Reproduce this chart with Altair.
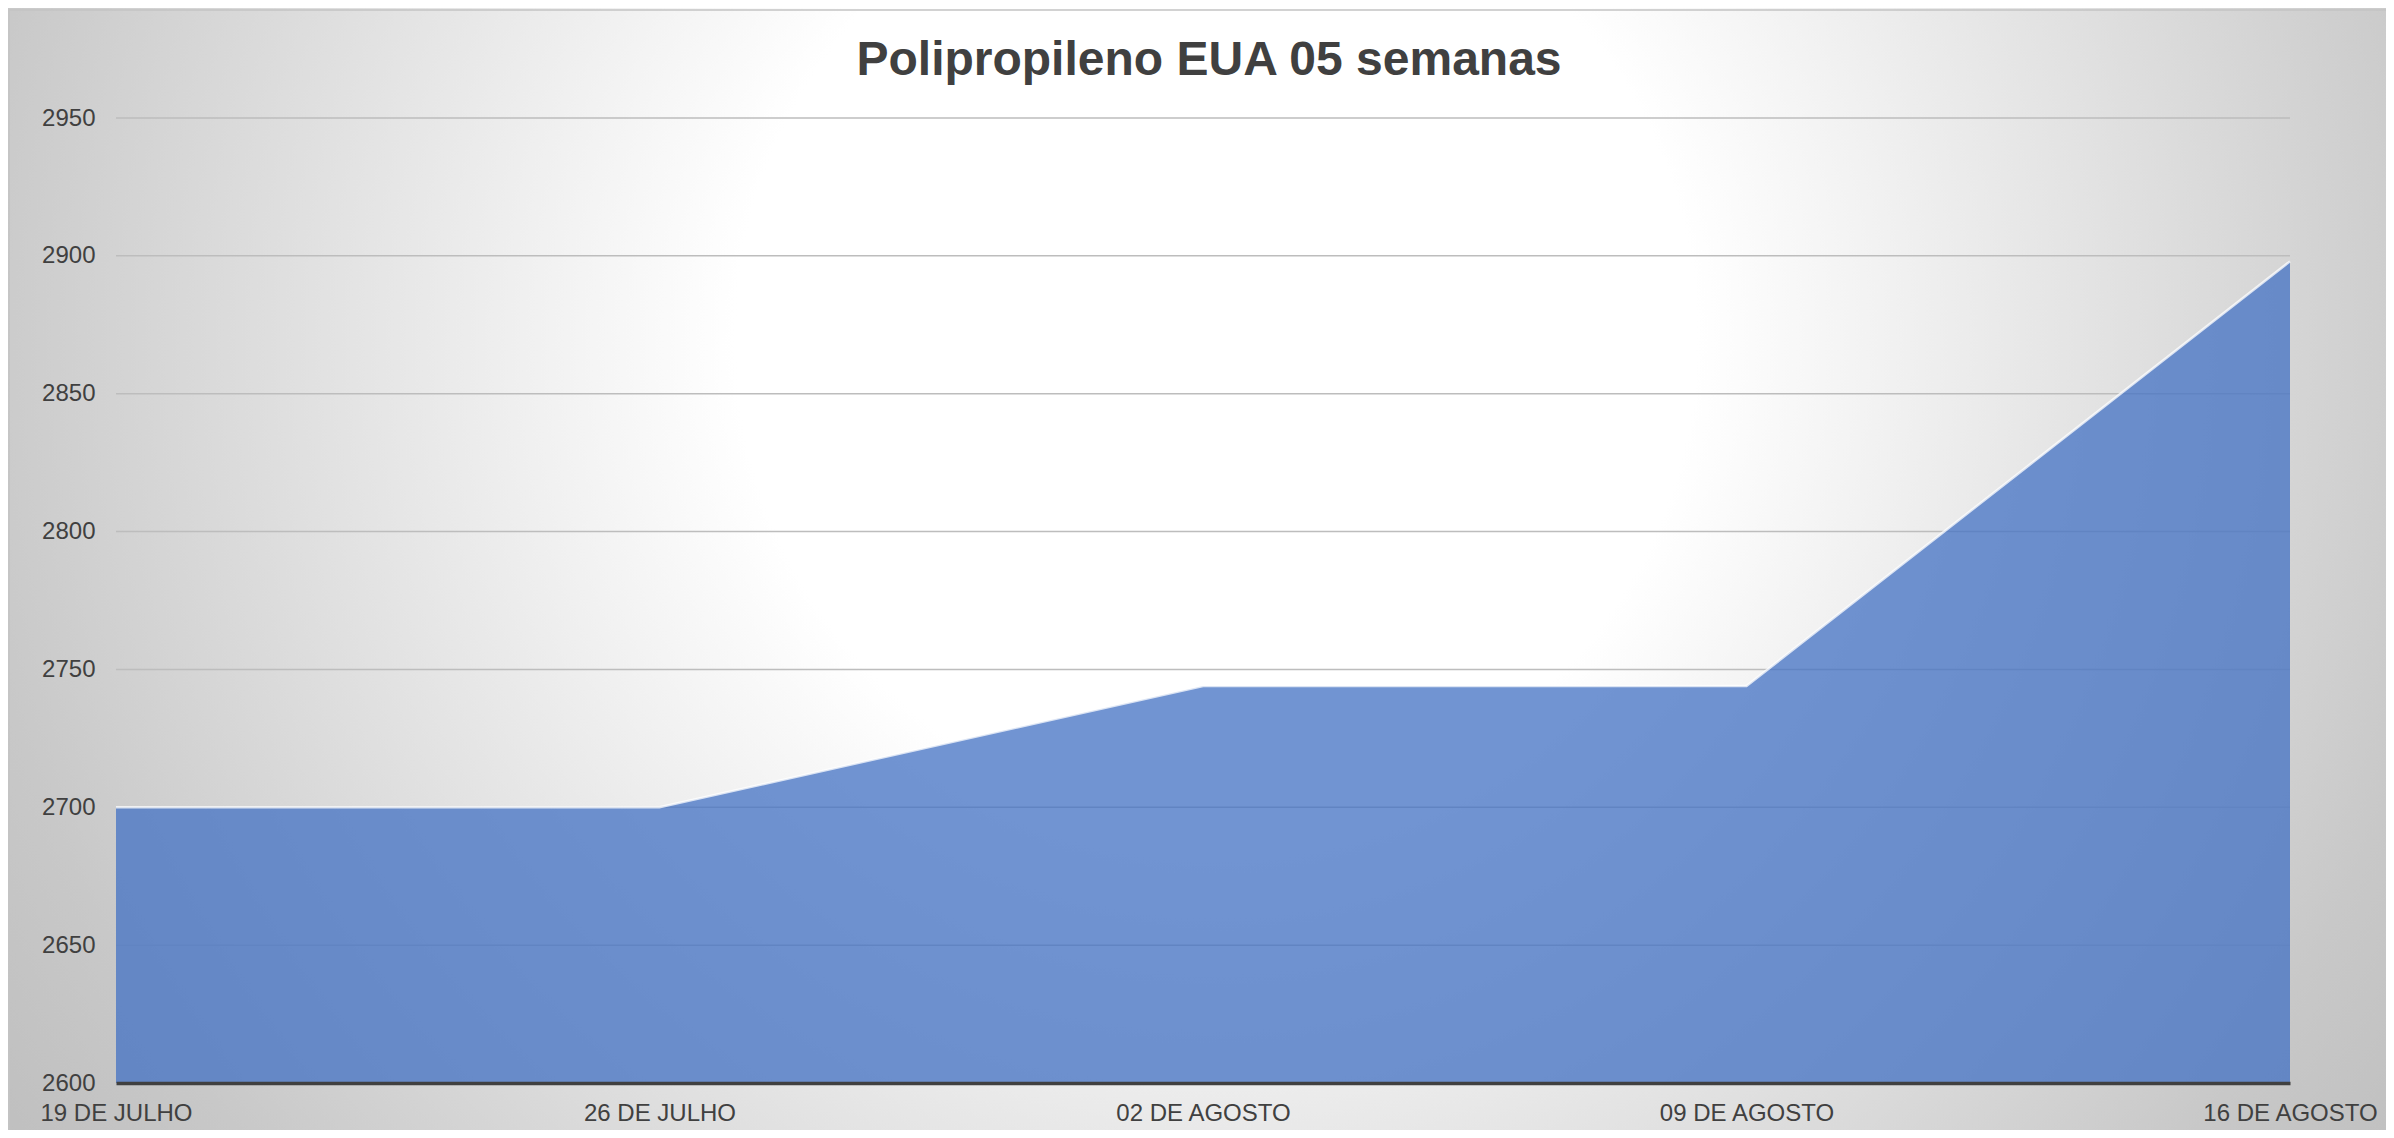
import altair as alt
import pandas as pd

dates = ["19 DE JULHO", "26 DE JULHO", "02 DE AGOSTO", "09 DE AGOSTO", "16 DE AGOSTO"]
values = [2700, 2700, 2744, 2744, 2898]
y_ticks = [2600, 2650, 2700, 2750, 2800, 2850, 2900, 2950]
title_text = "Polipropileno EUA 05 semanas"

df = pd.DataFrame({"data": dates, "valor": values})
griddf = pd.DataFrame({"valor": y_ticks[1:]})
bgdf = pd.DataFrame({"a": [0]})

W, H = 2174, 965
PAD = {"left": 108, "top": 110, "right": 96, "bottom": 47}
FONT = "Liberation Sans"

radial = {
    "gradient": "radial",
    "x1": 0.5, "y1": 0.5, "r1": 0,
    "x2": 0.5, "y2": 0.5, "r2": 0.5,
    "stops": [
        {"offset": 0.0, "color": "#ffffff"},
        {"offset": 0.32, "color": "#ffffff"},
        {"offset": 0.84, "color": "#c8c8c8"},
        {"offset": 1.0, "color": "#bdbdbd"},
    ],
}

cx, cy, R = 1100, 220, 1500
bg = alt.Chart(bgdf).mark_rect(fill=radial, clip=False).encode(
    x=alt.value(cx - R), x2=alt.value(cx + R),
    y=alt.value(cy - R), y2=alt.value(cy + R),
)
border = alt.Chart(bgdf).mark_rect(fill=None, stroke="#c4c4c4", strokeWidth=1.5, clip=False).encode(
    x=alt.value(-PAD["left"] + 1), x2=alt.value(W + PAD["right"] + 10),
    y=alt.value(-PAD["top"] + 2), y2=alt.value(H + PAD["bottom"] + 10),
)

xenc = alt.X(
    "data:N", sort=dates, scale=alt.Scale(type="point", padding=0),
    axis=alt.Axis(
        title=None, labelAngle=0, labelFontSize=24, labelFont=FONT, labelColor="#404040",
        labelPadding=18, ticks=False, domainColor="#404040", domainWidth=3.5,
        grid=False, zindex=2, labelOverlap=False,
    ),
)
yscale = alt.Scale(domain=[2600, 2950], zero=False, nice=False)
yaxis = alt.Axis(
    title=None, values=y_ticks, format="d", labelFontSize=24, labelFont=FONT, labelColor="#404040",
    labelPadding=21, ticks=False, domain=False, grid=False, zindex=2,
)

grid = alt.Chart(griddf).mark_rule(color="#bdbdbd", strokeWidth=1.5).encode(
    y=alt.Y("valor:Q", scale=yscale, axis=yaxis),
)

area = alt.Chart(df).mark_area(color="#4472C4", opacity=0.76, clip=True).encode(
    x=xenc,
    y=alt.Y("valor:Q", scale=yscale, axis=yaxis),
    y2=alt.datum(2600),
)
line = alt.Chart(df).mark_line(color="#ffffff", strokeWidth=2.5, opacity=0.75).encode(
    x=alt.X("data:N", sort=dates),
    y=alt.Y("valor:Q", scale=yscale),
)
title = alt.Chart(bgdf).mark_text(
    text=title_text, fontSize=48, font=FONT, fontWeight="bold", color="#404040",
    align="center", baseline="alphabetic",
).encode(x=alt.value(W / 2 + 6), y=alt.value(-43))

chart = alt.layer(bg, border, grid, area, line, title).properties(
    width=W, height=H,
    padding=PAD,
    autosize=alt.AutoSizeParams(type="none"),
).configure_view(stroke=None).configure(background="#ffffff")

chart.save("out.html", embed_options={"renderer": "svg", "actions": False})
